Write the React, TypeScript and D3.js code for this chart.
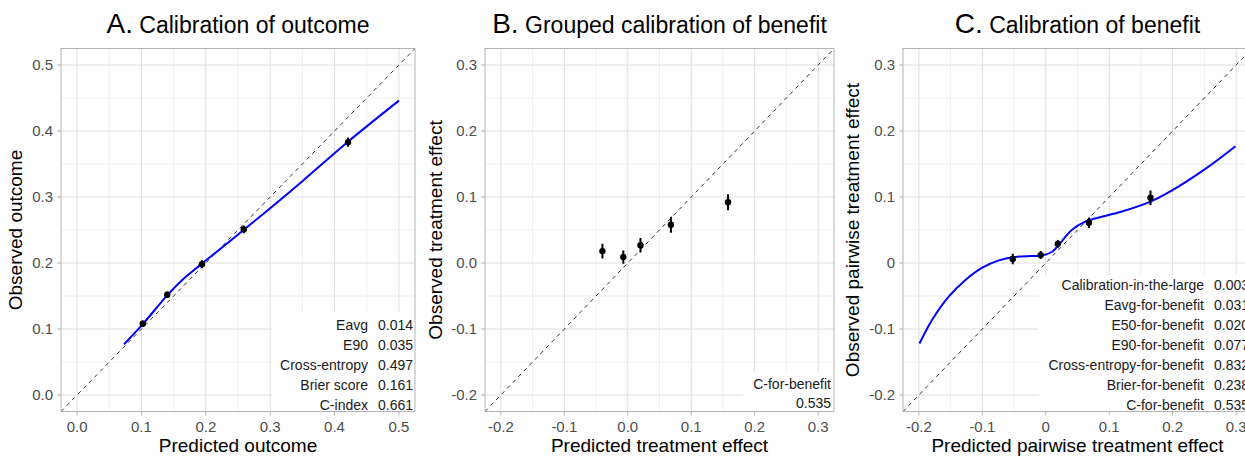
import * as d3 from "d3";
import * as React from "react";
import { useEffect, useRef } from "react";

// ---- panel A: calibration of outcome ----
const predA = [0.102, 0.14, 0.194, 0.259, 0.421];
const obsA = [0.108, 0.152, 0.198, 0.251, 0.383];
const errA = [0.005, 0.005, 0.006, 0.006, 0.007];
const smoothAx = [0.073, 0.1, 0.14, 0.163, 0.19, 0.217, 0.26, 0.3, 0.35, 0.42, 0.5];
const smoothAy = [0.077, 0.105, 0.151, 0.174, 0.196, 0.217, 0.251, 0.283, 0.324, 0.383, 0.446];
const ticksA = [0, 0.1, 0.2, 0.3, 0.4, 0.5];
const tickLabelsA = ["0.0", "0.1", "0.2", "0.3", "0.4", "0.5"];
const metricNamesA = ["Eavg", "E90", "Cross-entropy", "Brier score", "C-index"];
const metricValuesA = ["0.014", "0.035", "0.497", "0.161", "0.661"];

// ---- panel B: grouped calibration of benefit ----
const predB = [-0.04, -0.007, 0.02, 0.068, 0.158];
const obsB = [0.018, 0.009, 0.027, 0.058, 0.092];
const errB = [0.011, 0.01, 0.011, 0.012, 0.012];
const ticksB = [-0.2, -0.1, 0, 0.1, 0.2, 0.3];
const tickLabelsB = ["-0.2", "-0.1", "0.0", "0.1", "0.2", "0.3"];

// ---- panel C: calibration of benefit ----
const predC = [-0.052, -0.008, 0.019, 0.068, 0.165];
const obsC = [0.006, 0.012, 0.029, 0.061, 0.099];
const errC = [0.008, 0.006, 0.006, 0.008, 0.011];
const smoothCx = [-0.199, -0.179, -0.153, -0.127, -0.1, -0.074, -0.05, -0.022, -0.008, 0.01, 0.02, 0.041, 0.063, 0.084, 0.12, 0.165, 0.199, 0.252, 0.299];
const smoothCy = [-0.122, -0.086, -0.051, -0.026, -0.007, 0.004, 0.009, 0.0105, 0.011, 0.017, 0.027, 0.05, 0.063, 0.069, 0.078, 0.093, 0.11, 0.143, 0.177];
const tickLabelsC = ["-0.2", "-0.1", "0", "0.1", "0.2", "0.3"];
const metricNamesC = [
  "Calibration-in-the-large",
  "Eavg-for-benefit",
  "E50-for-benefit",
  "E90-for-benefit",
  "Cross-entropy-for-benefit",
  "Brier-for-benefit",
  "C-for-benefit",
];
const metricValuesC = ["0.003", "0.031", "0.020", "0.077", "0.832", "0.238", "0.535"];

const FONT = "'Liberation Sans', Arial, Helvetica, sans-serif";

type Props = {
  id: string;
  left: number;
  right: number;
  domain: [number, number];
  ticks: number[];
  xLabels: string[];
  yLabels: string[];
  letter: string;
  title: string;
  xTitle: string;
  yTitle: string;
  yTitleX: number;
  pred: number[];
  obs: number[];
  err: number[];
  smoothX?: number[];
  smoothY?: number[];
  table: any;
};

const TOP = 48.5;
const BOTTOM = 411.5;

function Panel(props: Props) {
  const ref = useRef<SVGGElement>(null);

  useEffect(() => {
    const { id, left, right, domain, ticks, xLabels, yLabels, pred, obs, err, table } = props;
    const g = d3.select(ref.current);
    g.selectAll("*").remove();

    const x = d3.scaleLinear().domain(domain).range([left, right]);
    const y = d3.scaleLinear().domain(domain).range([BOTTOM, TOP]);

    g.append("clipPath")
      .attr("id", "clip-" + id)
      .append("rect")
      .attr("x", left)
      .attr("y", TOP)
      .attr("width", right - left)
      .attr("height", BOTTOM - TOP);

    const step = ticks[1] - ticks[0];
    const minor = ticks.map((t) => t - step / 2).concat([ticks[ticks.length - 1] + step / 2]);
    const minorIn = minor.filter((m) => m > domain[0] && m < domain[1]);

    // grid
    const grid = g.append("g");
    grid.selectAll("line.minx").data(minorIn).enter().append("line")
      .attr("x1", (d) => x(d)).attr("x2", (d) => x(d))
      .attr("y1", TOP).attr("y2", BOTTOM)
      .attr("stroke", "#ececec").attr("stroke-width", 0.8);
    grid.selectAll("line.miny").data(minorIn).enter().append("line")
      .attr("y1", (d) => y(d)).attr("y2", (d) => y(d))
      .attr("x1", left).attr("x2", right)
      .attr("stroke", "#ececec").attr("stroke-width", 0.8);
    grid.selectAll("line.majx").data(ticks).enter().append("line")
      .attr("x1", (d) => x(d)).attr("x2", (d) => x(d))
      .attr("y1", TOP).attr("y2", BOTTOM)
      .attr("stroke", "#dedede").attr("stroke-width", 1);
    grid.selectAll("line.majy").data(ticks).enter().append("line")
      .attr("y1", (d) => y(d)).attr("y2", (d) => y(d))
      .attr("x1", left).attr("x2", right)
      .attr("stroke", "#dedede").attr("stroke-width", 1);

    // white table background
    g.append("rect")
      .attr("x", table.boxLeft)
      .attr("y", table.boxTop)
      .attr("width", right - table.boxLeft)
      .attr("height", BOTTOM - table.boxTop)
      .attr("fill", "#ffffff");

    const plot = g.append("g").attr("clip-path", "url(#clip-" + id + ")");

    // identity line
    plot.append("line")
      .attr("x1", x(domain[0])).attr("y1", y(domain[0]))
      .attr("x2", x(domain[1])).attr("y2", y(domain[1]))
      .attr("stroke", "#333333").attr("stroke-width", 1)
      .attr("stroke-dasharray", "4,4");

    // smoothed calibration curve
    if (props.smoothX && props.smoothY) {
      const sy = props.smoothY;
      const line = d3.line<number>()
        .x((d) => x(d))
        .y((d, i) => y(sy[i]))
        .curve(d3.curveCatmullRom.alpha(0.5));
      plot.append("path")
        .attr("d", line(props.smoothX))
        .attr("fill", "none")
        .attr("stroke", "#0000ff")
        .attr("stroke-width", 2);
    }

    // grouped points with error bars
    const pts = plot.selectAll("g.pt").data(pred).enter().append("g");
    pts.append("line")
      .attr("x1", (d) => x(d)).attr("x2", (d) => x(d))
      .attr("y1", (d, i) => y(obs[i] - err[i]))
      .attr("y2", (d, i) => y(obs[i] + err[i]))
      .attr("stroke", "#000").attr("stroke-width", 2);
    pts.append("circle")
      .attr("cx", (d) => x(d))
      .attr("cy", (d, i) => y(obs[i]))
      .attr("r", 3.2)
      .attr("fill", "#000");

    // border
    g.append("rect")
      .attr("x", left).attr("y", TOP)
      .attr("width", right - left).attr("height", BOTTOM - TOP)
      .attr("fill", "none").attr("stroke", "#b3b3b3").attr("stroke-width", 1);

    // ticks and tick labels
    g.selectAll("line.tx").data(ticks).enter().append("line")
      .attr("x1", (d) => x(d)).attr("x2", (d) => x(d))
      .attr("y1", BOTTOM).attr("y2", BOTTOM + 4)
      .attr("stroke", "#b3b3b3");
    g.selectAll("line.ty").data(ticks).enter().append("line")
      .attr("y1", (d) => y(d)).attr("y2", (d) => y(d))
      .attr("x1", left - 4).attr("x2", left)
      .attr("stroke", "#b3b3b3");
    g.selectAll("text.xt").data(ticks).enter().append("text")
      .attr("x", (d) => x(d)).attr("y", 431.5)
      .attr("text-anchor", "middle")
      .attr("font-size", 15).attr("fill", "#4d4d4d")
      .text((d, i) => xLabels[i]);
    g.selectAll("text.yt").data(ticks).enter().append("text")
      .attr("x", left - 8).attr("y", (d) => y(d) + 5.3)
      .attr("text-anchor", "end")
      .attr("font-size", 15).attr("fill", "#4d4d4d")
      .text((d, i) => yLabels[i]);

    // metrics table
    const tbl = g.append("g").attr("font-size", 14).attr("fill", "#1a1a1a");
    table.names.forEach((name: string, i: number) => {
      tbl.append("text")
        .attr("x", table.nameX).attr("y", table.rowY[i])
        .attr("text-anchor", "end").text(name);
    });
    table.values.forEach((v: string, i: number) => {
      tbl.append("text")
        .attr("x", table.valueX).attr("y", table.valueY[i])
        .attr("text-anchor", "end").text(v);
    });
  }, []);

  const { left, right, letter, title, xTitle, yTitle, yTitleX } = props;
  const cx = (left + right) / 2;
  const cy = (TOP + BOTTOM) / 2;
  return (
    <g fontFamily={FONT}>
      <text x={cx} y={33} textAnchor="middle" fill="#000">
        <tspan fontSize={28}>{letter}</tspan>
        <tspan fontSize={23}>{" " + title}</tspan>
      </text>
      <text x={cx} y={452} textAnchor="middle" fontSize={19} fill="#000">
        {xTitle}
      </text>
      <text
        transform={`translate(${yTitleX},${cy}) rotate(-90)`}
        textAnchor="middle"
        fontSize={19}
        fill="#000"
      >
        {yTitle}
      </text>
      <g ref={ref} />
    </g>
  );
}

const rows = (start: number, n: number) => d3.range(n).map((i) => start + i * 20);

export default function App() {
  return (
    <svg
      width={1245}
      height={457}
      style={{ position: "absolute", left: 0, top: 0, background: "#fff" }}
      fontFamily={FONT}
    >
      <rect width={1245} height={457} fill="#fff" />
      <Panel
        id="a"
        left={61}
        right={415}
        domain={[-0.025, 0.525]}
        ticks={ticksA}
        xLabels={tickLabelsA}
        yLabels={tickLabelsA}
        letter="A."
        title="Calibration of outcome"
        xTitle="Predicted outcome"
        yTitle="Observed outcome"
        yTitleX={22}
        pred={predA}
        obs={obsA}
        err={errA}
        smoothX={smoothAx}
        smoothY={smoothAy}
        table={{
          boxLeft: 272,
          boxTop: 312,
          names: metricNamesA,
          values: metricValuesA,
          nameX: 368,
          valueX: 413,
          rowY: rows(330, 5),
          valueY: rows(330, 5),
        }}
      />
      <Panel
        id="b"
        left={485}
        right={834}
        domain={[-0.225, 0.325]}
        ticks={ticksB}
        xLabels={tickLabelsB}
        yLabels={tickLabelsB}
        letter="B."
        title="Grouped calibration of benefit"
        xTitle="Predicted treatment effect"
        yTitle="Observed treatment effect"
        yTitleX={442}
        pred={predB}
        obs={obsB}
        err={errB}
        table={{
          boxLeft: 743,
          boxTop: 372,
          names: ["C-for-benefit"],
          values: ["0.535"],
          nameX: 831,
          valueX: 831,
          rowY: [389],
          valueY: [408],
        }}
      />
      <Panel
        id="c"
        left={903}
        right={1252}
        domain={[-0.225, 0.325]}
        ticks={ticksB}
        xLabels={tickLabelsC}
        yLabels={tickLabelsC}
        letter="C."
        title="Calibration of benefit"
        xTitle="Predicted pairwise treatment effect"
        yTitle="Observed pairwise treatment effect"
        yTitleX={859}
        pred={predC}
        obs={obsC}
        err={errC}
        smoothX={smoothCx}
        smoothY={smoothCy}
        table={{
          boxLeft: 1039,
          boxTop: 275,
          names: metricNamesC,
          values: metricValuesC,
          nameX: 1204,
          valueX: 1249,
          rowY: rows(290, 7),
          valueY: rows(290, 7),
        }}
      />
    </svg>
  );
}
